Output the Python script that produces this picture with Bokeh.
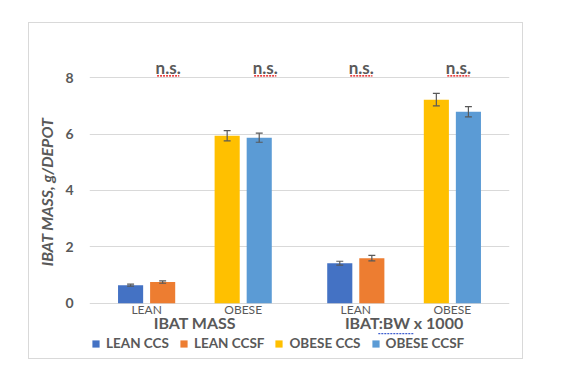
from bokeh.plotting import figure
from bokeh.models import FactorRange, Range1d, Legend, LegendItem, FixedTicker, ColumnDataSource
from bokeh.transform import dodge
from bokeh.core.properties import value
from bokeh.embed import file_html
from bokeh.resources import INLINE

# ---- data ----
groups = ["IBAT MASS", "IBAT:BW x 1000"]
subgroups = ["LEAN", "OBESE"]
factors = [(g, s) for g in groups for s in subgroups]

lean_x = [(g, "LEAN") for g in groups]
obese_x = [(g, "OBESE") for g in groups]

lean_ccs = [0.64, 1.42]
lean_ccs_err = [0.035, 0.07]
lean_ccsf = [0.75, 1.60]
lean_ccsf_err = [0.04, 0.10]
obese_ccs = [5.94, 7.22]
obese_ccs_err = [0.18, 0.22]
obese_ccsf = [5.87, 6.79]
obese_ccsf_err = [0.16, 0.18]

series_names = ["LEAN CCS", "LEAN CCSF", "OBESE CCS", "OBESE CCSF"]
series_colors = ["#4472C4", "#ED7D31", "#FFC000", "#5B9BD5"]

ns_labels = ["n.s.", "n.s.", "n.s.", "n.s."]
y_ticks = [0, 2, 4, 6, 8]

GRAY = "#595959"
FONT = "Lato"

p = figure(
    x_range=FactorRange(*factors, factor_padding=0, group_padding=0.166,
                        range_padding=0.0915, range_padding_units="absolute"),
    y_range=Range1d(-2.03, 9.92),
    width=495, height=337,
    output_backend="svg", toolbar_location=None, x_axis_location=None,
    min_border_left=60, min_border_right=15, min_border_top=0, min_border_bottom=0,
    margin=(22, 0, 0, 28),
)
p.styles = {"border": "1px solid #d9d9d9"}
p.outline_line_color = None
p.background_fill_color = "white"
p.border_fill_color = "white"

# grid
p.xgrid.grid_line_color = None
p.ygrid.ticker = FixedTicker(ticks=y_ticks)
p.ygrid.grid_line_color = "#d9d9d9"
p.ygrid.grid_line_width = 1

# y axis
p.yaxis.ticker = FixedTicker(ticks=y_ticks)
p.yaxis.axis_line_color = None
p.yaxis.major_tick_line_color = None
p.yaxis.minor_tick_line_color = None
p.yaxis.major_tick_out = 0
p.yaxis.major_label_standoff = 16
p.yaxis.major_label_text_font = FONT
p.yaxis.major_label_text_font_size = "14px"
p.yaxis.major_label_text_font_style = "bold"
p.yaxis.major_label_text_color = GRAY
p.yaxis.axis_label = "IBAT MASS, g/DEPOT"
p.yaxis.axis_label_text_font = FONT
p.yaxis.axis_label_text_font_size = "16px"
p.yaxis.axis_label_text_font_style = "bold italic"
p.yaxis.axis_label_text_color = GRAY
p.yaxis.axis_label_standoff = 6

# category labels (drawn through the categorical scale)
sub_src = ColumnDataSource(dict(x=factors, y=[-0.21] * len(factors), t=[f[1] for f in factors]))
p.text(x="x", y="y", text="t", source=sub_src, text_font=value(FONT), text_font_size="12px",
       text_color=GRAY, text_align="center", text_baseline="middle")
grp_src = ColumnDataSource(dict(x=groups, y=[-0.70] * len(groups), t=groups))
p.text(x="x", y="y", text="t", source=grp_src, text_font=value(FONT), text_font_size="16px",
       text_font_style="bold", text_color=GRAY, text_align="center", text_baseline="middle")
# spell-check squiggle under "BW"
p.segment(x0=dodge("x", -0.267, range=p.x_range), x1=dodge("x", 0.096, range=p.x_range),
          y0="y", y1="y", source=ColumnDataSource(dict(x=[groups[1]], y=[-1.08])),
          line_color="#4060d0", line_width=1.2, line_dash="2 1")

# bars
BAR_W = 0.26
OFF = 0.166
CAP = 0.036
series = [
    (lean_x, lean_ccs, lean_ccs_err, -OFF),
    (lean_x, lean_ccsf, lean_ccsf_err, OFF),
    (obese_x, obese_ccs, obese_ccs_err, -OFF),
    (obese_x, obese_ccsf, obese_ccsf_err, OFF),
]
renderers = []
for (xs, vals, errs, off), color in zip(series, series_colors):
    src = ColumnDataSource(dict(
        x=xs, top=vals,
        lo=[v - e for v, e in zip(vals, errs)],
        hi=[v + e for v, e in zip(vals, errs)],
    ))
    r = p.vbar(x=dodge("x", off, range=p.x_range), top="top", width=BAR_W,
               fill_color=color, line_color=None, source=src)
    renderers.append(r)
    p.segment(x0=dodge("x", off, range=p.x_range), x1=dodge("x", off, range=p.x_range),
              y0="lo", y1="hi", line_color=GRAY, line_width=1.2, source=src)
    for ycol in ("lo", "hi"):
        p.segment(x0=dodge("x", off - CAP, range=p.x_range),
                  x1=dodge("x", off + CAP, range=p.x_range),
                  y0=ycol, y1=ycol, line_color=GRAY, line_width=1.2, source=src)

# n.s. annotations
ns_dx = [0.223, 0.228, 0.057, 0.062]
for f, lab, dx in zip(factors, ns_labels, ns_dx):
    src = ColumnDataSource(dict(x=[f], y=[8.37], t=[lab]))
    p.text(x=dodge("x", dx, range=p.x_range), y="y", text="t", source=src,
           text_font=value(FONT), text_font_size="17px", text_font_style="bold",
           text_color=GRAY, text_align="center", text_baseline="alphabetic")
    p.segment(x0=dodge("x", dx - 0.115, range=p.x_range),
              x1=dodge("x", dx + 0.115, range=p.x_range),
              y0="y", y1="y", source=ColumnDataSource(dict(x=[f], y=[8.06])),
              line_color="#e00000", line_width=1.3, line_dash="2 1")

legend = Legend(
    items=[LegendItem(label=n, renderers=[r]) for n, r in zip(series_names, renderers)],
    orientation="horizontal", location=(2, 9),
    glyph_width=9, glyph_height=9, label_standoff=6, spacing=10, label_height=14,
    padding=4, margin=0, border_line_color=None, background_fill_alpha=0,
    label_text_font=FONT, label_text_font_size="13.5px", label_text_font_style="bold",
    label_text_color=GRAY,
)
p.add_layout(legend)

open("out.html", "w").write(file_html(p, INLINE))
